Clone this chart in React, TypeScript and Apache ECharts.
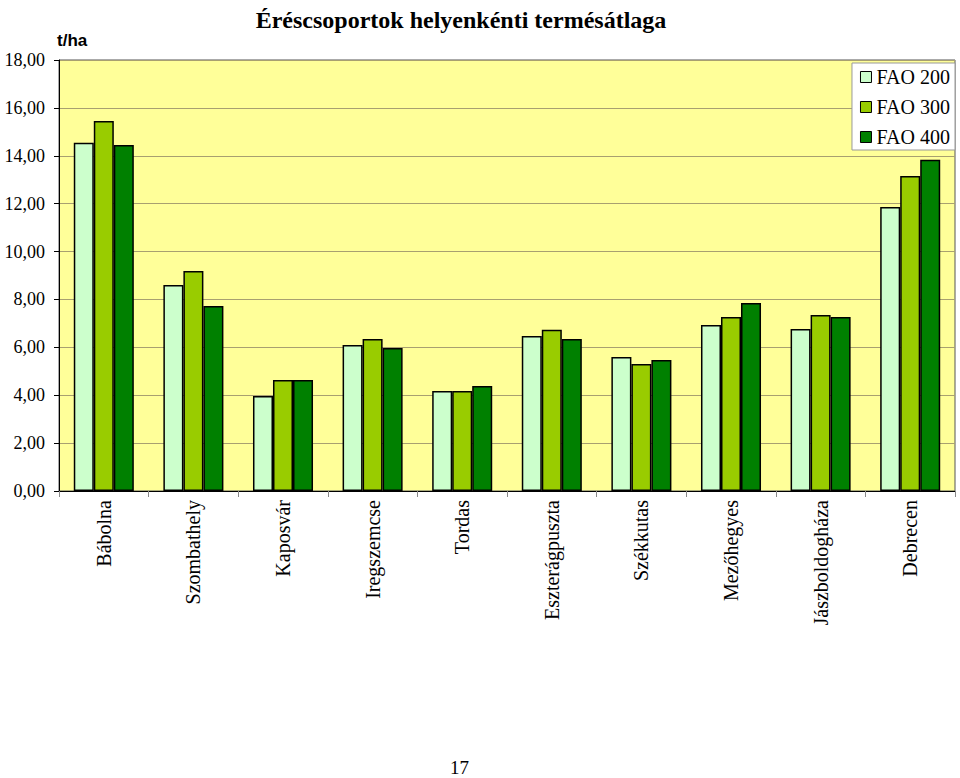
import React, { useEffect, useRef } from "react";
import * as echarts from "echarts";

const categories = [
  "Bábolna",
  "Szombathely",
  "Kaposvár",
  "Iregszemcse",
  "Tordas",
  "Eszterágpuszta",
  "Székkutas",
  "Mezőhegyes",
  "Jászboldogháza",
  "Debrecen",
];
const fao200 = [14.54, 8.6, 3.97, 6.1, 4.18, 6.47, 5.6, 6.93, 6.77, 11.86];
const fao300 = [15.45, 9.19, 4.64, 6.35, 4.18, 6.73, 5.3, 7.27, 7.35, 13.16];
const fao400 = [14.45, 7.73, 4.64, 5.97, 4.39, 6.35, 5.47, 7.85, 7.27, 13.83];
const seriesNames = ["FAO 200", "FAO 300", "FAO 400"];
const seriesColors = ["#CCFFCC", "#99CC00", "#008000"];

export default function App() {
  const ref = useRef<HTMLDivElement>(null);
  useEffect(() => {
    if (!ref.current) return;
    const chart = echarts.init(ref.current, undefined, { renderer: "svg" });
    const serif = "Liberation Serif";
    const data = [fao200, fao300, fao400];
    chart.setOption({
      animation: false,
      backgroundColor: "#ffffff",
      textStyle: { fontFamily: serif },
      title: {
        text: "Éréscsoportok helyenkénti termésátlaga",
        left: 456,
        textAlign: "center",
        top: 3,
        textStyle: { fontFamily: serif, fontSize: 24, fontWeight: "bold", color: "#000" },
      },
      legend: {
        orient: "vertical",
        right: 5,
        top: 63,
        backgroundColor: "#ffffff",
        borderColor: "#999",
        borderWidth: 1,
        padding: [4, 5, 3, 8],
        itemWidth: 11,
        itemHeight: 11,
        itemGap: 10,
        icon: "rect",
        textStyle: { fontFamily: serif, fontSize: 20, color: "#000" },
        data: seriesNames.map((n) => ({
          name: n,
          itemStyle: { borderColor: "#000", borderWidth: 1 },
          textStyle: { fontFamily: serif, fontSize: 20, color: "#000" },
        })),
      },
      grid: {
        left: 59,
        right: 5,
        top: 60,
        bottom: 287,
        show: true,
        backgroundColor: "#FFFF99",
        borderColor: "#555",
        borderWidth: 1,
      },
      xAxis: {
        type: "category",
        data: categories,
        axisLine: { lineStyle: { color: "#000", width: 1 } },
        axisTick: { show: true, length: 6, lineStyle: { color: "#888" } },
        axisLabel: {
          rotate: 90,
          margin: 9,
          fontFamily: serif,
          fontSize: 20,
          color: "#000",
          interval: 0,
        },
      },
      yAxis: {
        type: "value",
        min: 0,
        max: 18,
        interval: 2,
        axisLine: { show: true, lineStyle: { color: "#000" } },
        axisTick: { show: true, length: 5, lineStyle: { color: "#000" } },
        splitLine: { lineStyle: { color: "#A8A070", width: 1.2 } },
        axisLabel: {
          margin: 14,
          fontFamily: serif,
          fontSize: 18,
          color: "#000",
          formatter: (v: number) => v.toFixed(2).replace(".", ","),
        },
      },
      graphic: [
        {
          type: "text",
          left: 57,
          top: 32,
          style: {
            text: "t/ha",
            fontFamily: "Liberation Sans",
            fontWeight: "bold",
            fontSize: 17,
            fill: "#000",
          },
        },
        {
          type: "text",
          left: 450,
          top: 758,
          style: { text: "17", fontFamily: serif, fontSize: 19, fill: "#000" },
        },
      ],
      series: data.map((d, i) => ({
        name: seriesNames[i],
        type: "bar",
        data: d,
        barGap: "0%",
        barCategoryGap: "33%",
        itemStyle: { color: seriesColors[i], borderColor: "#000", borderWidth: 1.5 },
      })),
    });
    return () => chart.dispose();
  }, []);
  return (
    <div
      ref={ref}
      style={{ position: "fixed", left: 0, top: 0, width: 960, height: 778 }}
    />
  );
}
